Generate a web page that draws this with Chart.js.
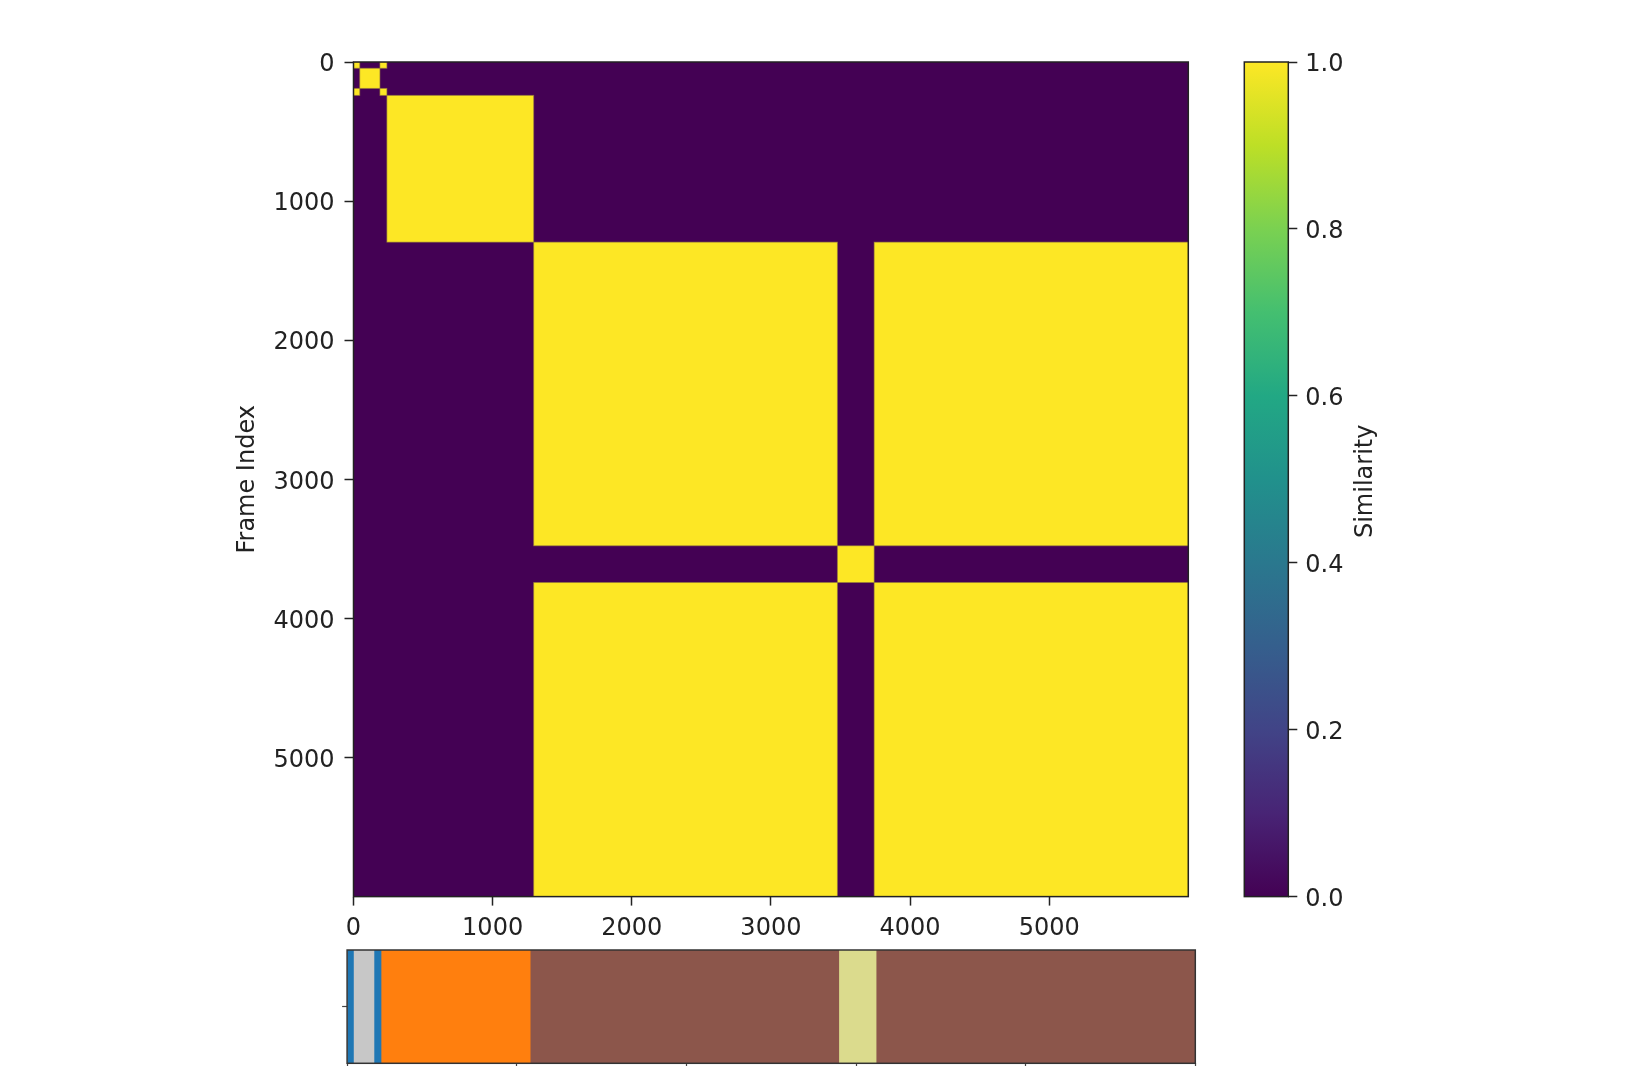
<!DOCTYPE html>
<html><head><meta charset="utf-8">
<script src="https://cdn.jsdelivr.net/npm/chart.js@4.4.1/dist/chart.umd.min.js"></script>
<style>
html,body{margin:0;padding:0;background:#fff;overflow:hidden;width:1644px;height:1066px;}
canvas{position:absolute;left:0;top:0;}
</style></head><body>
<canvas id="main" width="1644" height="1066"></canvas>
<canvas id="cbar" width="1644" height="1066"></canvas>
<canvas id="strip" width="1644" height="1120"></canvas>
<script>
// ---------------- data ----------------
const frameCount = 6000;
const segStarts = [0, 45, 190, 240, 1295, 3478, 3742];
const segEnds   = [45, 190, 240, 1295, 3478, 3742, 6000];
const segLabels = [0, 1, 0, 2, 3, 4, 3];
const labelColors = ['#1f77b4', '#c7c7c7', '#ff7f0e', '#8c564b', '#dbdb8d'];
const frameTicks = [0, 1000, 2000, 3000, 4000, 5000];
const colorbarTicks = [0, 0.2, 0.4, 0.6, 0.8, 1.0];
const stripTicks = [0, 1200, 2400, 3600, 4800, 6000];
const viridisStops = ['#440154','#482475','#414487','#355f8d','#2a788e','#21918c','#22a884','#44bf70','#7ad151','#bddf26','#fde725'];
const yTitle = 'Frame Index';
const cbarTitle = 'Similarity';

const FONT = 'DejaVu Sans';
const TXT = '#222';

function viridis(v) {
  const i = Math.round(v * (viridisStops.length - 1));
  return viridisStops[i];
}

// ---------------- main heatmap ----------------
const heatmapPlugin = {
  id: 'heatmap',
  beforeDatasetsDraw(chart) {
    const {ctx, chartArea: a, scales: {x, y}} = chart;
    ctx.save();
    ctx.beginPath();
    ctx.rect(a.left, a.top, a.right - a.left, a.bottom - a.top);
    ctx.clip();
    // background = similarity 0
    ctx.fillStyle = viridis(0);
    ctx.fillRect(x.getPixelForValue(0), y.getPixelForValue(0),
      x.getPixelForValue(frameCount) - x.getPixelForValue(0),
      y.getPixelForValue(frameCount) - y.getPixelForValue(0));
    const blocks = [];
    for (let i = 0; i < segStarts.length; i++) {
      for (let j = 0; j < segStarts.length; j++) {
        const v = segLabels[i] === segLabels[j] ? 1 : 0;
        if (v === 0) continue;
        const x0 = x.getPixelForValue(segStarts[j]), x1 = x.getPixelForValue(segEnds[j]);
        const y0 = y.getPixelForValue(segStarts[i]), y1 = y.getPixelForValue(segEnds[i]);
        blocks.push([x0, y0, x1 - x0, y1 - y0]);
        ctx.fillStyle = viridis(v);
        ctx.fillRect(x0, y0, x1 - x0, y1 - y0);
      }
    }
    ctx.strokeStyle = 'rgba(150,125,60,0.6)';
    ctx.lineWidth = 1;
    blocks.forEach(b => ctx.strokeRect(b[0], b[1], b[2], b[3]));
    ctx.restore();
  },
  afterDraw(chart) {
    const {ctx, chartArea: a} = chart;
    ctx.save();
    ctx.strokeStyle = '#222';
    ctx.lineWidth = 1.5;
    ctx.strokeRect(a.left, a.top, a.right - a.left, a.bottom - a.top);
    ctx.restore();
  }
};

const axisCommon = {
  type: 'linear',
  min: 0,
  max: frameCount,
  grid: {drawOnChartArea: false, drawTicks: true, tickLength: 9, tickColor: '#222', tickWidth: 1.5},
  border: {display: false},
};

new Chart(document.getElementById('main'), {
  type: 'scatter',
  data: {datasets: [{data: []}]},
  options: {
    responsive: false, animation: false,
    plugins: {legend: {display: false}, tooltip: {enabled: false}},
    layout: {padding: {left: 233.5, top: 62, right: 1644 - 1188.3, bottom: 1066 - 896.6 - 60}},
    scales: {
      x: Object.assign({}, axisCommon, {
        position: 'bottom',
        afterBuildTicks: s => { s.ticks = frameTicks.map(v => ({value: v})); },
        afterFit: s => { s.height = 60; },
        ticks: {color: TXT, font: {family: FONT, size: 24}, padding: 9, maxRotation: 0, autoSkip: false,
                callback: v => String(v)}
      }),
      y: Object.assign({}, axisCommon, {
        position: 'left',
        reverse: true,
        afterBuildTicks: s => { s.ticks = frameTicks.map(v => ({value: v})); },
        afterFit: s => { s.width = 120; },
        ticks: {color: TXT, font: {family: FONT, size: 24}, padding: 10, autoSkip: false, labelOffset: 3,
                callback: v => String(v)},
        title: {display: true, text: yTitle, color: TXT, font: {family: FONT, size: 24}, padding: 0}
      })
    }
  },
  plugins: [heatmapPlugin]
});

// ---------------- colorbar ----------------
const cbarPlugin = {
  id: 'cbarDeco',
  afterDraw(chart) {
    const {ctx, chartArea: a} = chart;
    ctx.save();
    ctx.strokeStyle = '#222';
    ctx.lineWidth = 1.5;
    ctx.strokeRect(a.left, a.top, a.right - a.left, a.bottom - a.top);
    ctx.translate(a.right + 77, (a.top + a.bottom) / 2 + 2);
    ctx.rotate(-Math.PI / 2);
    ctx.fillStyle = TXT;
    ctx.font = '24px "' + FONT + '"';
    ctx.textAlign = 'center';
    ctx.textBaseline = 'middle';
    ctx.fillText(cbarTitle, 0, 0);
    ctx.restore();
  }
};

new Chart(document.getElementById('cbar'), {
  type: 'bar',
  data: {
    labels: [''],
    datasets: [{
      data: [[0, 1]],
      borderWidth: 0,
      barPercentage: 1,
      categoryPercentage: 1,
      backgroundColor: (c) => {
        const chart = c.chart;
        if (!chart.chartArea) return viridisStops[0];
        const ys = chart.scales.y;
        const g = chart.ctx.createLinearGradient(0, ys.getPixelForValue(0), 0, ys.getPixelForValue(1));
        viridisStops.forEach((col, k) => g.addColorStop(k / (viridisStops.length - 1), col));
        return g;
      }
    }]
  },
  options: {
    responsive: false, animation: false,
    plugins: {legend: {display: false}, tooltip: {enabled: false}},
    layout: {padding: {left: 1244.3, top: 62, right: 1644 - 1288.3 - 100, bottom: 1066 - 896.6}},
    scales: {
      x: {display: false},
      y: {
        position: 'right', min: 0, max: 1,
        afterBuildTicks: s => { s.ticks = colorbarTicks.map(v => ({value: v})); },
        afterFit: s => { s.width = 100; },
        grid: {drawOnChartArea: false, drawTicks: true, tickLength: 9, tickColor: '#222', tickWidth: 1.5},
        border: {display: false},
        ticks: {color: TXT, font: {family: FONT, size: 24}, padding: 8, labelOffset: 3,
                callback: v => Number(v).toFixed(1)}
      }
    }
  },
  plugins: [cbarPlugin]
});

// ---------------- segment strip ----------------
const stripPlugin = {
  id: 'stripBorder',
  afterDraw(chart) {
    const {ctx, chartArea: a} = chart;
    ctx.save();
    ctx.strokeStyle = '#333';
    ctx.lineWidth = 1.5;
    ctx.strokeRect(a.left, a.top, a.right - a.left, a.bottom - a.top);
    ctx.restore();
  }
};

new Chart(document.getElementById('strip'), {
  type: 'bar',
  data: {
    labels: [''],
    datasets: segStarts.map((s, i) => ({
      data: [[s, segEnds[i]]],
      backgroundColor: labelColors[segLabels[i]],
      borderWidth: 0,
      barPercentage: 1,
      categoryPercentage: 1,
      grouped: false
    }))
  },
  options: {
    indexAxis: 'y',
    responsive: false, animation: false,
    plugins: {legend: {display: false}, tooltip: {enabled: false}},
    layout: {padding: {left: 347.1 - 20, top: 950, right: 1644 - 1195.3, bottom: 1120 - 1063.3 - 30}},
    scales: {
      x: {
        type: 'linear', min: 0, max: frameCount, position: 'bottom',
        afterBuildTicks: s => { s.ticks = stripTicks.map(v => ({value: v})); },
        afterFit: s => { s.height = 30; },
        ticks: {display: false},
        grid: {drawOnChartArea: false, drawTicks: true, tickLength: 9, tickColor: '#444', tickWidth: 1.2},
        border: {display: false}
      },
      y: {
        afterFit: s => { s.width = 20; },
        ticks: {display: false},
        grid: {drawOnChartArea: false, offset: false, drawTicks: true, tickLength: 5, tickColor: '#444', tickWidth: 1.2},
        border: {display: false}
      }
    }
  },
  plugins: [stripPlugin]
});
</script>
</body></html>
